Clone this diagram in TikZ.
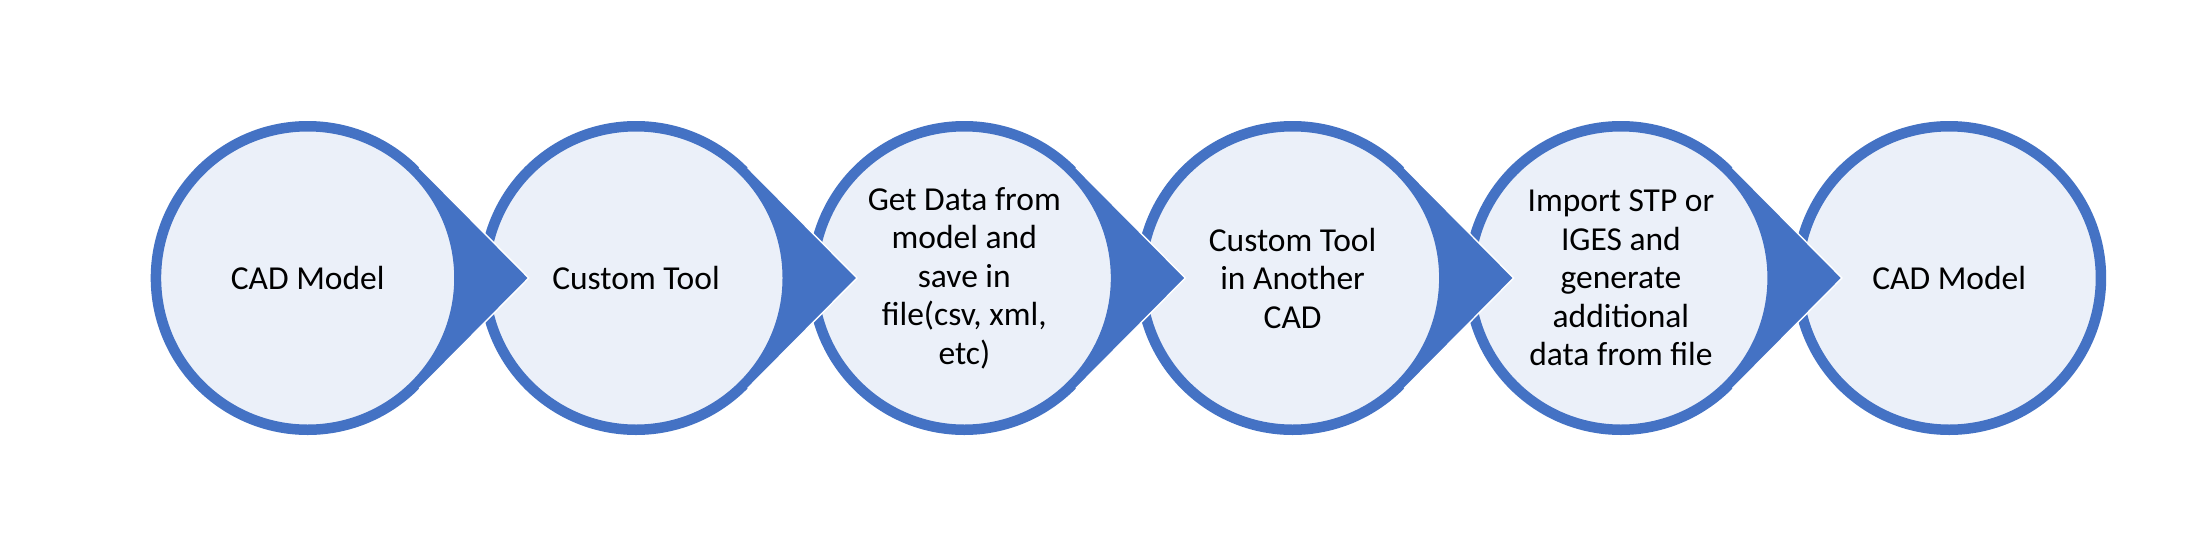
\documentclass[tikz,border=0pt]{standalone}
\usepackage{fontspec}
\setmainfont{Carlito}
\usetikzlibrary{calc}
\definecolor{ablue}{HTML}{4472C4}
\definecolor{afill}{HTML}{EBF0F9}
\tikzset{
  stage/.style={circle, draw=ablue, fill=afill, line width=10.5pt, minimum size=303.5pt, inner sep=0pt,
    align=center, font=\fontsize{33.5}{38.5}\selectfont, text=black},
  point/.style={fill=ablue, draw=none},
  pointedge/.style={draw=white, line width=1.4pt, line join=miter}
}
\newcommand{\pointer}[1]{%
  \fill[point] ($(#1.center)+(44.74:157)$) -- ($(#1.center)+(221,0)$) -- ($(#1.center)+(-44.74:157)$)
     -- ($(#1.center)+(-44.74:150)$) arc[start angle=-44.74, end angle=44.74, radius=150] -- cycle;
  \draw[pointedge] ($(#1.center)+(44.74:157)$) -- ($(#1.center)+(221,0)$) -- ($(#1.center)+(-44.74:157)$);
}
\begin{document}
\begin{tikzpicture}[x=1pt,y=-1pt]
\useasboundingbox (0,0) rectangle (2189,557);
\fill[white] (0,0) rectangle (2189,557);
\node[stage] (c1) at (307.7,278) {CAD Model};
\node[stage] (c2) at (636.0,278) {Custom Tool};
\node[stage] (c3) at (964.3,278) {Get Data from\\model and\\save in\\file(csv, xml,\\etc)};
\node[stage] (c4) at (1292.6,278) {Custom Tool\\in Another\\CAD};
\node[stage] (c5) at (1620.9,278) {Import STP or\\IGES and\\generate\\additional\\data from file};
\node[stage] (c6) at (1949.2,278) {CAD Model};
\pointer{c1}
\pointer{c2}
\pointer{c3}
\pointer{c4}
\pointer{c5}
\end{tikzpicture}
\end{document}
